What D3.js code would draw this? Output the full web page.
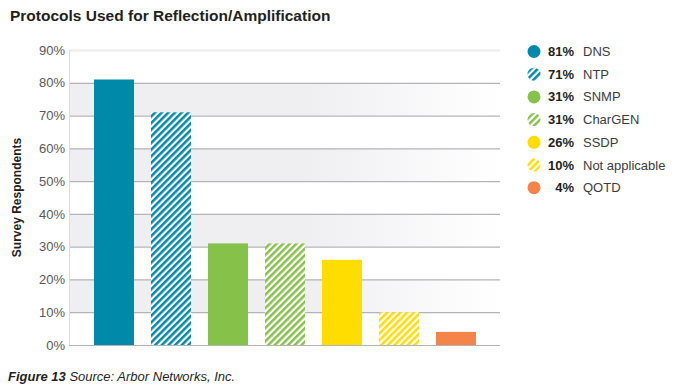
<!DOCTYPE html>
<html>
<head>
<meta charset="utf-8">
<script src="https://cdn.jsdelivr.net/npm/d3@7"></script>
<style>
  body { margin: 0; background: #fff; }
  svg { display: block; font-family: "Liberation Sans", Arial, Helvetica, sans-serif; }
</style>
</head>
<body>
<svg width="687" height="389"></svg>
<script>
const protocols = ["DNS", "NTP", "SNMP", "CharGEN", "SSDP", "Not applicable", "QOTD"];
const shares = [81, 71, 31, 31, 26, 10, 4];
const colors = ["#0089a8", "#0089a8", "#86c14a", "#86c14a", "#ffdd00", "#ffdd00", "#f5844a"];
const hatched = [false, true, false, true, false, true, false];
const yTicks = [0, 10, 20, 30, 40, 50, 60, 70, 80, 90];

const svg = d3.select("svg");
const plotLeft = 69, plotRight = 500, plotTop = 50, plotBottom = 345;

const x = d3.scaleBand().domain(protocols).range([plotLeft, plotRight + 1])
    .paddingInner(17 / 57).paddingOuter(25 / 57);
const y = d3.scaleLinear().domain([0, 90]).range([plotBottom, plotTop]);

const defs = svg.append("defs");

// background fade to the right
const grad = defs.append("linearGradient").attr("id", "bandFade");
grad.append("stop").attr("offset", "0%").attr("stop-color", "#efeff2");
grad.append("stop").attr("offset", "55%").attr("stop-color", "#efeff2");
grad.append("stop").attr("offset", "100%").attr("stop-color", "#ffffff");

// stripe patterns
const uniqColors = Array.from(new Set(colors));
uniqColors.forEach(c => {
    const p = defs.append("pattern")
        .attr("id", "hatch" + c.slice(1))
        .attr("patternUnits", "userSpaceOnUse")
        .attr("width", 4.7).attr("height", 4.7)
        .attr("patternTransform", "rotate(45)");
    p.append("rect").attr("width", 4.7).attr("height", 4.7).attr("fill", "#fff");
    p.append("rect").attr("width", 2.5).attr("height", 4.7).attr("fill", c);
});

const fillFor = i => hatched[i] ? `url(#hatch${colors[i].slice(1)})` : colors[i];

// title
svg.append("text")
    .attr("x", 10).attr("y", 21)
    .attr("font-size", 15.5).attr("font-weight", "bold").attr("fill", "#231f20")
    .text("Protocols Used for Reflection/Amplification");

// alternating bands
yTicks.slice(0, -1).forEach(t => {
    if (t % 20 === 10) {
        svg.append("rect")
            .attr("x", plotLeft).attr("y", y(t + 10))
            .attr("width", plotRight - plotLeft).attr("height", y(t) - y(t + 10))
            .attr("fill", "url(#bandFade)");
    }
});

// grid lines
svg.append("g").selectAll("line")
    .data(yTicks)
    .join("line")
    .attr("x1", plotLeft).attr("x2", plotRight)
    .attr("y1", d => y(d) + 0.5).attr("y2", d => y(d) + 0.5)
    .attr("stroke", d => d === 90 ? "#ececee" : "#b4b4b8")
    .attr("stroke-width", d => d === 90 ? 2 : 1.2);

// left axis line
svg.append("line")
    .attr("x1", plotLeft + 0.5).attr("x2", plotLeft + 0.5)
    .attr("y1", plotTop).attr("y2", plotBottom)
    .attr("stroke", "#dcdcdf");

// tick labels
const yAxis = svg.append("g")
    .attr("transform", `translate(${plotLeft - 4},0)`)
    .call(d3.axisLeft(y).tickValues(yTicks).tickSize(0).tickPadding(0).tickFormat(d => d + "%"));
yAxis.select(".domain").remove();
yAxis.selectAll("text")
    .attr("font-size", 13).attr("fill", "#58585a")
    .attr("font-family", "Liberation Sans, Arial, sans-serif");

// y axis title
svg.append("text")
    .attr("transform", `translate(21,${(plotTop + plotBottom) / 2}) rotate(-90)`)
    .attr("text-anchor", "middle")
    .attr("font-size", 12).attr("font-weight", "bold").attr("fill", "#231f20")
    .text("Survey Respondents");

// bars
svg.append("g").selectAll("rect")
    .data(protocols)
    .join("rect")
    .attr("x", d => x(d))
    .attr("width", x.bandwidth())
    .attr("y", (d, i) => y(shares[i]))
    .attr("height", (d, i) => y(0) - y(shares[i]))
    .attr("fill", (d, i) => fillFor(i));

// legend
const legend = svg.append("g");
protocols.forEach((p, i) => {
    const cy = 51.5 + i * 22.7;
    legend.append("circle")
        .attr("cx", 534).attr("cy", cy).attr("r", 6.5)
        .attr("fill", fillFor(i));
    legend.append("text")
        .attr("x", 574).attr("y", cy + 4.5)
        .attr("text-anchor", "end")
        .attr("font-size", 13).attr("font-weight", "bold").attr("fill", "#231f20")
        .text(shares[i] + "%");
    legend.append("text")
        .attr("x", 583).attr("y", cy + 4.5)
        .attr("font-size", 13).attr("fill", "#3c3c3e")
        .text(p);
});

// caption
const cap = svg.append("text")
    .attr("x", 8).attr("y", 381)
    .attr("font-size", 13).attr("font-style", "italic").attr("fill", "#231f20");
cap.append("tspan").attr("font-weight", "bold").text("Figure 13");
cap.append("tspan").text(" Source: Arbor Networks, Inc.");
</script>
</body>
</html>
